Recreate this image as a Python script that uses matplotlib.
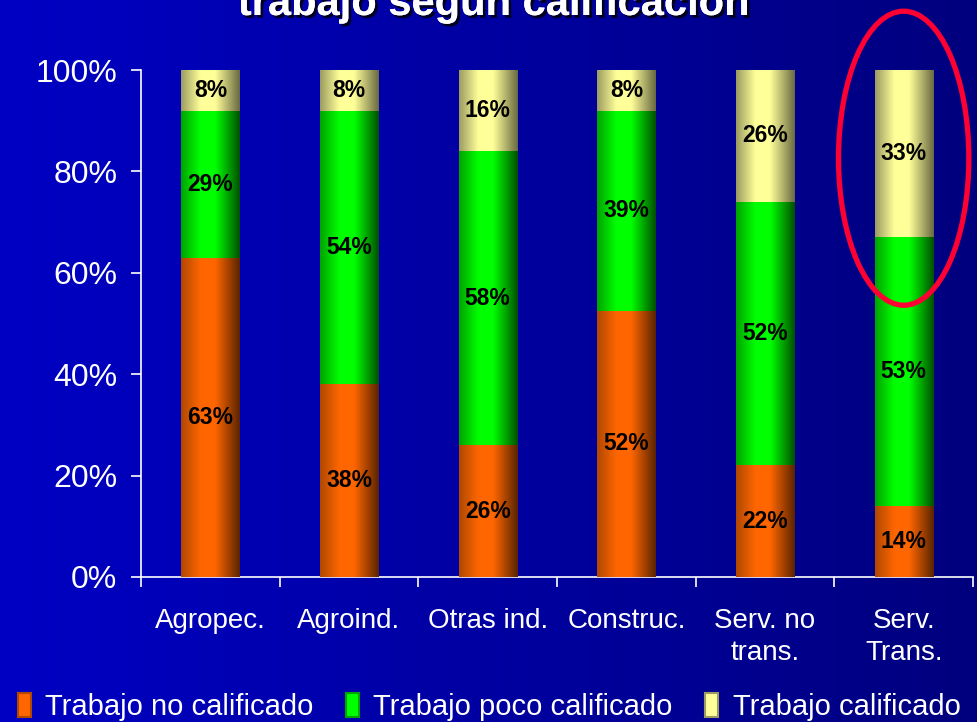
import numpy as np
import matplotlib.pyplot as plt
from matplotlib.colors import LinearSegmentedColormap
from matplotlib.patches import Ellipse, Patch
import matplotlib.patheffects as pe

plt.rcParams['font.family'] = ['Liberation Sans', 'DejaVu Sans']

categories = ['Agropec.', 'Agroind.', 'Otras ind.', 'Construc.', 'Serv. no\ntrans.', 'Serv.\nTrans.']
no_calif = [63, 38, 26, 52, 22, 14]
poco_calif = [29, 54, 58, 39, 52, 53]
calif = [8, 8, 16, 8, 26, 33]
series_names = ['Trabajo no calificado', 'Trabajo poco calificado', 'Trabajo calificado']
title = 'trabajo según calificación'

# colores: (borde izq., centro claro, borde der.)
shades = [('#b04800', '#ff6600', '#5a2400'),
          ('#00a400', '#00ff00', '#005000'),
          ('#9c9c62', '#ffff99', '#6a6a42')]

fig = plt.figure(figsize=(9.78, 7.22), dpi=100)

# fondo degradado
bg = fig.add_axes([0, 0, 1, 1], zorder=-10)
grad = np.linspace(0, 1, 256).reshape(1, -1)
bg_cmap = LinearSegmentedColormap.from_list('bg', ['#0000c4', '#00007e'])
bg.imshow(grad, cmap=bg_cmap, aspect='auto', extent=[0, 1, 0, 1])
bg.axis('off')

ax = fig.add_axes([141/978, (722-577)/722, (973-141)/978, (577-70)/722])
ax.set_facecolor('none')

data = np.array([no_calif, poco_calif, calif], dtype=float)
data = data / data.sum(axis=0) * 100
raw = [no_calif, poco_calif, calif]
x = np.arange(len(categories))
bottom = np.zeros(len(categories))
width = 0.42
prof = np.linspace(0, 1, 200).reshape(1, -1)

for i, name in enumerate(series_names):
    left, light, right = shades[i]
    cm = LinearSegmentedColormap.from_list('c%d' % i, [(0, left), (0.33, light), (0.58, light), (1, right)])
    bars = ax.bar(x, data[i], width, bottom=bottom, color=light, label=name, zorder=2)
    for b in bars:
        ax.imshow(prof, cmap=cm, aspect='auto', zorder=3, interpolation='bilinear',
                  extent=[b.get_x(), b.get_x() + b.get_width(), b.get_y(), b.get_y() + b.get_height()])
    for xi, (v, bt, r) in enumerate(zip(data[i], bottom, raw[i])):
        ax.text(xi, bt + v / 2, '%d%%' % r, ha='center', va='center',
                fontsize=16.5, fontweight='bold', color='black', zorder=5)
    bottom += data[i]

ax.set_xlim(-0.5, len(categories) - 0.5)
ax.set_ylim(0, 100)
ax.set_yticks(np.arange(0, 101, 20))
ax.set_yticklabels(['%d%%' % v for v in range(0, 101, 20)])
ax.set_xticks(x)
ax.set_xticklabels(categories, linespacing=1.3)
ax.set_xticks(np.arange(-0.5, len(categories)), minor=True)
ax.tick_params(axis='x', which='major', length=0, pad=22, labelsize=20, colors='white')
ax.tick_params(axis='x', which='minor', length=7, direction='out', color='white', width=1.2)
ax.tick_params(axis='y', length=7, width=1.2, pad=10, labelsize=23, colors='white')
for s in ['top', 'right']:
    ax.spines[s].set_visible(False)
for s in ['left', 'bottom']:
    ax.spines[s].set_color('white')
    ax.spines[s].set_linewidth(1.2)

# elipse roja de resaltado
ax.add_patch(Ellipse((5, 82.6), 0.94, 58, fill=False, edgecolor='#ff0033', lw=3.8,
                     clip_on=False, zorder=6))

fig.text(0.505, (722 - 15) / 722, title, ha='center', va='baseline',
         fontsize=30, fontweight='bold', color='white',
         path_effects=[pe.withSimplePatchShadow(offset=(2, -2), shadow_rgbFace='black', alpha=0.8),
                       pe.Normal()])

handles = [Patch(facecolor=shades[i][1], edgecolor=shades[i][0], lw=1.5) for i in range(3)]
fig.legend(handles, series_names, loc='center', bbox_to_anchor=(0.5, 15/722), ncol=3,
           frameon=False, fontsize=21, labelcolor='white', handlelength=0.45, handleheight=0.85,
           handletextpad=0.5, columnspacing=1.1, borderaxespad=0)

fig.savefig('out.png', dpi=100)
